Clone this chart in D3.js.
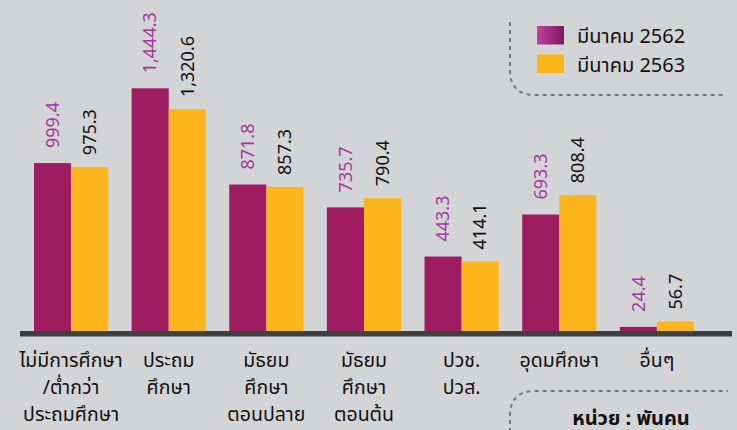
<!DOCTYPE html>
<html>
<head>
<meta charset="utf-8">
<script src="https://cdn.jsdelivr.net/npm/d3@7"></script>
<style>
  body { margin: 0; background: #d3d4d6; }
  svg { display: block; font-family: Tahoma, "Noto Sans Thai", "Liberation Sans", sans-serif; }
</style>
</head>
<body>
<div id="chart"></div>
<script>
const categories = [
  ["ไม่มีการศึกษา", "/ต่ำกว่า", "ประถมศึกษา"],
  ["ประถม", "ศึกษา"],
  ["มัธยม", "ศึกษา", "ตอนปลาย"],
  ["มัธยม", "ศึกษา", "ตอนต้น"],
  ["ปวช.", "ปวส."],
  ["อุดมศึกษา"],
  ["อื่นๆ"]
];
const seriesNames = ["มีนาคม 2562", "มีนาคม 2563"];
const values2562 = [999.4, 1444.3, 871.8, 735.7, 443.3, 693.3, 24.4];
const values2563 = [975.3, 1320.6, 857.3, 790.4, 414.1, 808.4, 56.7];
const unitLabel = "หน่วย : พันคน";

const width = 737, height = 430;
const baseY = 331;

const svg = d3.select("#chart")
  .append("svg")
  .attr("width", width)
  .attr("height", height);

svg.append("rect")
  .attr("width", width)
  .attr("height", height)
  .attr("fill", "#d3d4d6");

const defs = svg.append("defs");
const grad = defs.append("linearGradient").attr("id", "legGrad");
grad.append("stop").attr("offset", "0%").attr("stop-color", "#c2409e");
grad.append("stop").attr("offset", "100%").attr("stop-color", "#7c1a5c");

const colors = ["#9e1d61", "#fdb51c"];
const labelColors = ["#a23a9e", "#111111"];

// scales
const x = d3.scaleBand()
  .domain(d3.range(categories.length))
  .range([34, 694])
  .paddingInner(0.24)
  .paddingOuter(0);

const xSub = d3.scaleBand()
  .domain([0, 1])
  .range([0, x.bandwidth()]);

const y = d3.scaleLinear()
  .domain([0, 1970])
  .range([baseY, 0]);

const fmt = d3.format(",.1f");

const rows = categories.map((c, i) => ({ i, vals: [values2562[i], values2563[i]] }));

// bars
const groups = svg.selectAll("g.grp")
  .data(rows)
  .join("g")
  .attr("class", "grp")
  .attr("transform", d => `translate(${x(d.i)},0)`);

groups.selectAll("rect")
  .data(d => d.vals.map((v, s) => ({ v, s })))
  .join("rect")
  .attr("x", d => xSub(d.s))
  .attr("y", d => y(d.v))
  .attr("width", xSub.bandwidth())
  .attr("height", d => baseY - y(d.v))
  .attr("fill", d => colors[d.s]);

// value labels (rotated)
groups.selectAll("text.val")
  .data(d => d.vals.map((v, s) => ({ v, s })))
  .join("text")
  .attr("class", "val")
  .attr("transform", d => {
    const cx = xSub(d.s) + xSub.bandwidth() / 2;
    const cy = y(d.v) - (d.s === 0 ? 15 : 12);
    return `translate(${cx},${cy}) rotate(-90)`;
  })
  .attr("dy", "0.35em")
  .attr("text-anchor", "start")
  .attr("font-size", "18px")
  .attr("fill", d => labelColors[d.s])
  .text(d => fmt(d.v));

// baseline
svg.append("rect")
  .attr("x", 20)
  .attr("y", baseY)
  .attr("width", 712)
  .attr("height", 5.5)
  .attr("fill", "#404040");

// category labels
const catText = svg.selectAll("text.cat")
  .data(categories)
  .join("text")
  .attr("class", "cat")
  .attr("text-anchor", "middle")
  .attr("font-size", "19.5px")
  .attr("fill", "#111");

catText.selectAll("tspan")
  .data((d, i) => d.map(line => ({ line, i })))
  .join("tspan")
  .attr("x", d => x(d.i) + x.bandwidth() / 2)
  .attr("y", (d, j) => 367 + j * 27)
  .text(d => d.line);

// legend
const dash = "4,4";
svg.append("path")
  .attr("d", "M510,22 L510,70 Q510,95 535,95 L726,95")
  .attr("fill", "none")
  .attr("stroke", "#7a7a7a")
  .attr("stroke-width", 2)
  .attr("stroke-dasharray", dash);

const legend = svg.append("g")
  .attr("transform", "translate(537,26)");

seriesNames.forEach((name, i) => {
  const row = legend.append("g")
    .attr("transform", `translate(0,${i * 28.5})`);
  row.append("rect")
    .attr("width", 27)
    .attr("height", 18.5)
    .attr("fill", i === 0 ? "url(#legGrad)" : colors[1]);
  row.append("text")
    .attr("x", 40)
    .attr("y", 17)
    .attr("font-size", "20px")
    .attr("fill", "#111")
    .text(name);
});

// unit box
svg.append("path")
  .attr("d", "M510,432 L510,416 Q510,391 535,391 L728,391")
  .attr("fill", "none")
  .attr("stroke", "#7a7a7a")
  .attr("stroke-width", 2)
  .attr("stroke-dasharray", dash);

svg.append("text")
  .attr("x", 631)
  .attr("y", 425)
  .attr("text-anchor", "middle")
  .attr("font-size", "20px")
  .attr("font-weight", "bold")
  .attr("fill", "#111")
  .text(unitLabel);
</script>
</body>
</html>
